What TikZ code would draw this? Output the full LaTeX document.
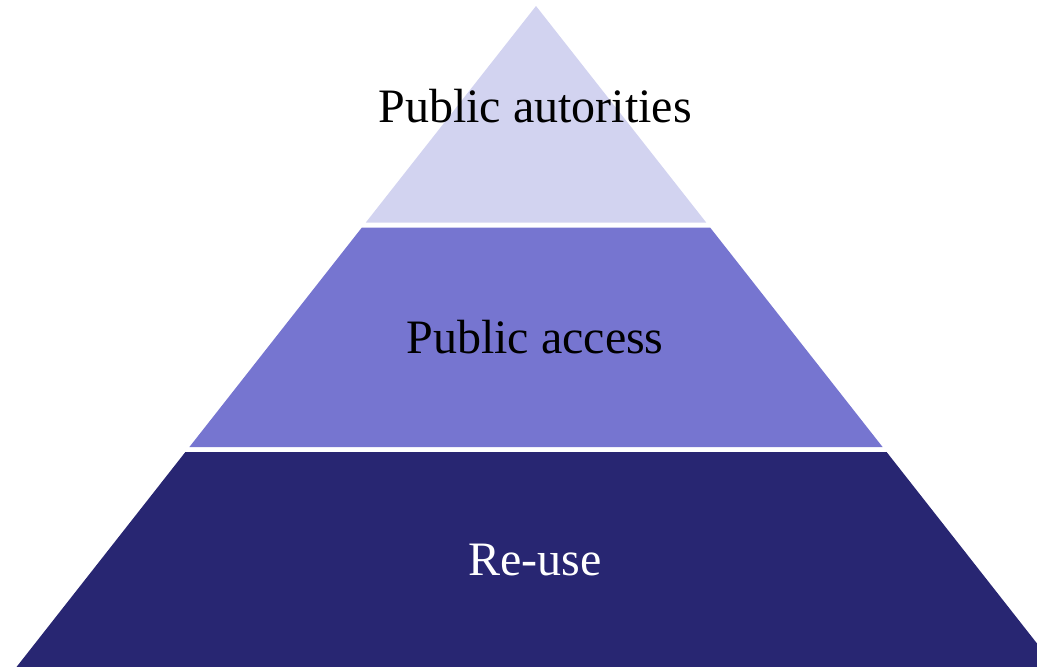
\documentclass[tikz,border=0pt]{standalone}
\usepackage{fontspec}
\setmainfont{Liberation Serif}
\definecolor{layertop}{HTML}{D2D3F0}
\definecolor{layermid}{HTML}{7675D0}
\definecolor{layerbot}{HTML}{282672}
\begin{document}
\begin{tikzpicture}[x=1pt,y=-1pt,
  label/.style={anchor=base,inner sep=0pt,font=\fontsize{48}{56}\selectfont}]
\useasboundingbox (0,0) rectangle (1037,667);
\clip (0,0) rectangle (1037,667);
\fill[layertop] (536,6) -- (706.2,222.5) -- (365.8,222.5) -- cycle;
\fill[layermid] (361.9,227.5) -- (710.1,227.5) -- (882.6,447) -- (189.4,447) -- cycle;
\fill[layerbot] (185.4,452) -- (886.6,452) -- (1055.5,667) -- (16.5,667) -- cycle;
\node[label,text=black] (auth) at (535,122) {Public autorities};
\node[label,text=black] (access) at (535,353) {Public access};
\node[label,text=white] (reuse) at (535,575) {Re-use};
\end{tikzpicture}
\end{document}
